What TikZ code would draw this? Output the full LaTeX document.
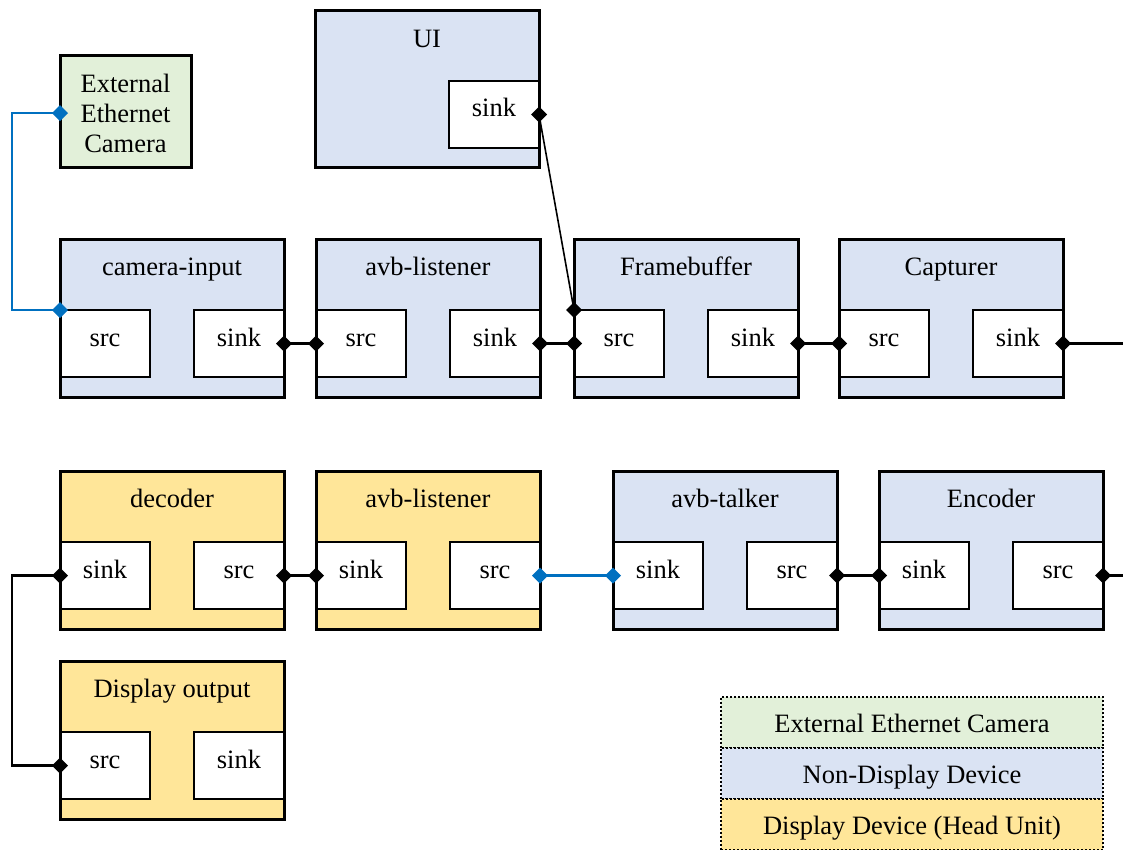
\documentclass[tikz,border=0pt]{standalone}
\usepackage{fontspec}
\setmainfont{Liberation Serif}
\definecolor{ndfill}{HTML}{DAE3F3}
\definecolor{dispfill}{HTML}{FFE699}
\definecolor{camfill}{HTML}{E2F0D9}
\definecolor{linkblue}{HTML}{0070C0}

\tikzset{
  every node/.style={outer sep=0pt, inner sep=0pt, font=\fontsize{26.5}{30}\selectfont},
  devfill/.style={minimum width=224pt, minimum height=158pt},
  port/.style={draw=black, line width=2pt, fill=white, minimum width=90pt, minimum height=67pt},
  frame/.style={draw=black, line width=3pt},
  link/.style={draw=black, line width=2.4pt},
  thinlink/.style={draw=black, line width=1.6pt},
  bluelink/.style={draw=linkblue, line width=2.4pt},
  legendrow/.style={draw=black, line width=2pt, dash pattern=on 2pt off 2pt,
    minimum width=382pt, minimum height=51pt, text height=22pt, text depth=2pt},
}

% diamond marker centred on a connector end
\newcommand{\pin}[2][black]{\fill[#1] (#2) +(-8,0) -- +(0,-8) -- +(8,0) -- +(0,8) -- cycle;}

% device: name, fill, left x, top y, title, left port, right port
\newcommand{\devbox}[7]{%
  \node[devfill, fill=#2, anchor=north west] (#1) at (#3,#4) {};
  \node[port, anchor=north west] (#1-l) at ([yshift=-71pt]#1.north west) {};
  \node[port, anchor=north east] (#1-r) at ([yshift=-71pt]#1.north east) {};
  \node[anchor=base] (#1-t) at ([yshift=-36pt]#1.north) {#5};
  \node[anchor=base] (#1-lt) at ([yshift=-36pt]#1-l.north) {#6};
  \node[anchor=base] (#1-rt) at ([yshift=-36pt]#1-r.north) {#7};
  \draw[frame] (#1.south west) rectangle (#1.north east);
}

\begin{document}
\begin{tikzpicture}[x=1pt, y=-1pt]
\useasboundingbox (0,0) rectangle (1123,849);

% UI with a single sink
\node[devfill, fill=ndfill, minimum height=157pt, anchor=north west] (ui) at (315,10) {};
\node[port, anchor=north east] (ui-r) at ([yshift=-71pt]ui.north east) {};
\node[anchor=base] (ui-t) at ([yshift=-37pt]ui.north) {UI};
\node[anchor=base] (ui-rt) at ([yshift=-35pt]ui-r.north) {sink};
\draw[frame] (ui.south west) rectangle (ui.north east);

% external camera
\node[frame, fill=camfill, minimum width=131pt, minimum height=112pt,
      anchor=north west] (cam) at (60,55) {};
\node[align=center] (cam-t) at ([yshift=-2pt]cam.center) {External\\Ethernet\\Camera};

% capture chain
\devbox{ci}{ndfill}{60}{239}{camera-input}{src}{sink}
\devbox{al}{ndfill}{316}{239}{avb-listener}{src}{sink}
\devbox{fb}{ndfill}{574}{239}{Framebuffer}{src}{sink}
\devbox{cap}{ndfill}{839}{239}{Capturer}{src}{sink}

% display chain
\devbox{dec}{dispfill}{60}{471}{decoder}{sink}{src}
\devbox{hl}{dispfill}{316}{471}{avb-listener}{sink}{src}
\devbox{tk}{ndfill}{613}{471}{avb-talker}{sink}{src}
\devbox{enc}{ndfill}{879}{471}{Encoder}{sink}{src}
\devbox{disp}{dispfill}{60}{661}{Display output}{src}{sink}

% free ends leaving the picture
\coordinate (outA) at ([xshift=62pt]cap-r.east);
\coordinate (outB) at ([xshift=22pt]enc-r.east);

% connectors
\draw[bluelink] ([yshift=-2pt]cam.west) -- ++(-48,0) |- (ci-l.north west);
\pin[linkblue]{[yshift=-2pt]cam.west} \pin[linkblue]{ci-l.north west}

\draw[link] (ci-r.east) -- (al-l.west);   \pin{ci-r.east} \pin{al-l.west}
\draw[link] (al-r.east) -- (fb-l.west);   \pin{al-r.east} \pin{fb-l.west}
\draw[link] (fb-r.east) -- (cap-l.west);  \pin{fb-r.east} \pin{cap-l.west}
\draw[link] (cap-r.east) -- (outA);       \pin{cap-r.east}

\draw[thinlink] (ui-r.east) -- (fb-l.north west);
\pin{ui-r.east} \pin{fb-l.north west}

\draw[link] (dec-r.east) -- (hl-l.west);  \pin{dec-r.east} \pin{hl-l.west}
\draw[bluelink] (hl-r.east) -- (tk-l.west);
\pin[linkblue]{hl-r.east} \pin[linkblue]{tk-l.west}
\draw[link] (tk-r.east) -- (enc-l.west);  \pin{tk-r.east} \pin{enc-l.west}
\draw[link] (enc-r.east) -- (outB);       \pin{enc-r.east}

\draw[link] (dec-l.west) -- ++(-48,0) |- (disp-l.west);
\pin{dec-l.west} \pin{disp-l.west}

% legend
\node[legendrow, fill=camfill, anchor=north west] (lg1) at (721,697) {External Ethernet Camera};
\node[legendrow, fill=ndfill, anchor=north west] (lg2) at (721,748) {Non-Display Device};
\node[legendrow, fill=dispfill, anchor=north west] (lg3) at (721,799) {Display Device (Head Unit)};
\end{tikzpicture}
\end{document}
